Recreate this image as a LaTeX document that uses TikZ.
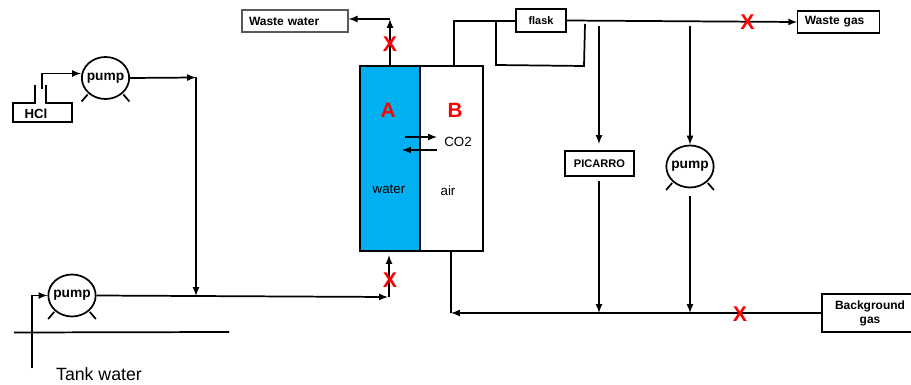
\documentclass[tikz,border=0pt]{standalone}
\usepackage{fontspec}
\setmainfont{Liberation Sans}
\usetikzlibrary{shapes.geometric,calc}
\definecolor{waterblue}{HTML}{00B0F0}

\begin{document}
\begin{tikzpicture}[x=0.75pt, y=-0.75pt, line width=1.3pt]
        \tikzset{
            box/.style={draw, rectangle, font=\bfseries\fontsize{9}{10.5}\selectfont, align=center, inner sep=0pt},
            leftbox/.style={box, align=left, inner xsep=5.25pt},
            pump/.style={draw, ellipse, inner xsep=-6pt, inner ysep=-4pt, minimum width=35.5pt, minimum height=31.5pt, font=\bfseries\fontsize{10.3}{12}\selectfont},
            tank/.style={draw, rectangle, minimum height=138.75pt},
            shut/.style={text=red, inner sep=0pt, font=\bfseries\fontsize{16}{18}\selectfont},
            side/.style={text=red, inner sep=0pt, font=\bfseries\fontsize{15.5}{18}\selectfont},
            plain/.style={inner sep=0pt, font=\fontsize{10}{12}\selectfont},
        }
        \useasboundingbox (0,0) rectangle (911,385);

        % tank
        \node[tank, fill=waterblue, minimum width=45pt] (tanka) at (390,158.5) {};
        \node[tank, fill=white, minimum width=47.25pt] (tankb) at (451.5,158.5) {};
        \node[side] (labela) at (388,110) {A};
        \node[side] (labelb) at (455,110) {B};
        \node[plain] (co2) at (458,142) {CO2};
        \node[plain] (water) at (389,189) {water};
        \node[plain] (air) at (448,191) {air};
        \coordinate (infrom) at (405,137);
        \coordinate (into) at (437,137);
        \coordinate (outfrom) at (437,150);
        \coordinate (outto) at (402,150);
        \draw[-latex] (infrom) -- (into);
        \draw[-latex] (outfrom) -- (outto);

        % boxes and pumps
        \node[leftbox, gray!70!black, text=black, line width=0.9pt, text width=69pt, minimum height=16.5pt] (wastewater) at (295,21) {Waste water};
        \node[box, minimum width=37.5pt, minimum height=17pt, font=\bfseries\fontsize{8.2}{10}\selectfont] (flask) at (541,20.5) {flask};
        \node[leftbox, line width=0.9pt, text width=50.5pt, minimum height=16.5pt] (wastegas) at (838.5,22) {Waste gas};
        \node[box, minimum width=52pt, minimum height=19pt, font=\bfseries\fontsize{8.3}{10}\selectfont] (picarro) at (599.5,163.5) {PICARRO};
        \node[box, minimum width=72pt, minimum height=28.5pt] (background) at (870,313) {Background\\gas};
        \node[pump] (pumpa) at (105.5,78) {pump};
        \node[pump] (pumpb) at (72,295.5) {pump};
        \node[pump] (pumpc) at (690,166.5) {pump};
        \foreach \p in {pumpa,pumpb,pumpc} {
            \draw (\p.south west) ++(-0.5,1) -- ++(-6,7);
            \draw (\p.south east) ++(0.5,1) -- ++(6,7);
        }

        % hcl bottle
        \node[inner sep=0pt, font=\bfseries\fontsize{9.9}{12}\selectfont] (hcl) at (36,114) {HCl};
        \coordinate (neckl) at (35,85);
        \coordinate (neckr) at (46,85);
        \coordinate (tubefoot) at (42,89);
        \coordinate (tubetop) at (42,73.5);
        \draw (neckl) -- (35,103) -- (13,103) -- (13,122) -- (72,122) -- (72,103) -- (46,103) -- (neckr);
        \draw[-latex] (tubefoot) -- (tubetop) -- (tubetop -| pumpa.west);

        % tank water side
        \coordinate (tankl) at (14,332.5);
        \coordinate (tankr) at (229,332);
        \coordinate (suction) at (32,368);
        \coordinate (acidjoin) at (196,77.5);
        \coordinate (acidend) at (196,296);
        \coordinate (feed) at (388,297);
        \coordinate (feedup) at (389,297);
        \coordinate (feedtop) at (389,255);
        \node[inner sep=0pt, font=\fontsize{13.3}{15}\selectfont] (tankwater) at (99,374) {Tank water};
        \draw (tankl) -- (tankr);
        \draw[-latex] (suction) -- (suction |- pumpb.west) -- (pumpb.west);
        \draw[-latex] (pumpa.east) -- (acidjoin);
        \draw[-latex] (acidjoin) -- (acidend);
        \draw[-latex] (pumpb.east) -- (feed);
        \draw[-latex] (feedup) -- (feedtop);

        % water out
        \coordinate (wateroutcorner) at (390,19);
        \draw[-latex] (tanka.north) -- (wateroutcorner);
        \draw[-latex] (wateroutcorner) -- (wastewater.east |- wateroutcorner);

        % gas side
        \coordinate (aircorner) at (454,21);
        \coordinate (loopstart) at (496,21);
        \coordinate (loopcorner) at (496,65);
        \coordinate (loopend) at (584,66);
        \coordinate (looptop) at (585,24);
        \coordinate (tappicarro) at (599,26);
        \coordinate (tappump) at (690,26);
        \coordinate (airbottom) at (451,313);
        \draw (aircorner |- tankb.north) -- (aircorner) -- (flask.west |- aircorner);
        \draw (loopstart) -- (loopcorner) -- (loopend) -- (looptop);
        \draw[-latex] (flask.east) -- (wastegas.west);
        \draw[-latex, shorten >=4.5pt] (tappicarro) -- (tappicarro |- picarro.north);
        \draw[-latex] (tappump) -- (pumpc.north);
        \draw[-latex, shorten <=3pt] (tappicarro |- picarro.south) -- (tappicarro |- background.west);
        \draw[-latex, shorten <=6pt] (pumpc.south) -- (pumpc.south |- background.west);
        \draw (airbottom |- tankb.south) -- (airbottom);
        \draw[-latex] (background.west) -- (airbottom);

        % valves
        \node[shut] (valvetop) at (390,44) {X};
        \node[shut] (valvebottom) at (390,280) {X};
        \node[shut] (valvegas) at (747.5,22.5) {X};
        \node[shut] (valvebackground) at (740,314) {X};
    \end{tikzpicture}
\end{document}
